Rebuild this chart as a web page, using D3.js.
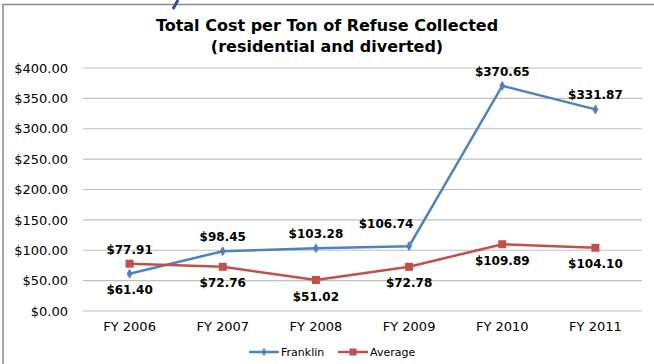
<!DOCTYPE html>
<html><head><meta charset="utf-8">
<script src="https://cdn.jsdelivr.net/npm/d3@7"></script>
<style>body{margin:0;background:#fff}svg{display:block}</style>
</head><body>
<script>
const categories = ["FY 2006","FY 2007","FY 2008","FY 2009","FY 2010","FY 2011"];
const franklin = [61.40, 98.45, 103.28, 106.74, 370.65, 331.87];
const average = [77.91, 72.76, 51.02, 72.78, 109.89, 104.10];
const yTicks = [0,50,100,150,200,250,300,350,400];
const seriesNames = ["Franklin","Average"];
const colors = ["#4F81BD","#C0504D"];
const titleLines = ["Total Cost per Ton of Refuse Collected","(residential and diverted)"];

const W=654,H=364;
const font="'DejaVu Sans', Verdana, sans-serif";
const svg=d3.select("body").append("svg").attr("width",W).attr("height",H);

// frame
svg.append("path").attr("d","M3,364 V4.5 H654").attr("fill","none").attr("stroke","#8a8a8a").attr("stroke-width",1.5);
svg.append("path").attr("d","M173,9 L178,0").attr("stroke","#2f4f8f").attr("stroke-width",3);

const x=d3.scaleBand().domain(categories).range([83,642]);
const y=d3.scaleLinear().domain([0,400]).range([311,68]);
const cx=d=>x(d)+x.bandwidth()/2;

// title
svg.append("g").selectAll("text").data(titleLines).join("text")
 .attr("x",327).attr("y",(d,i)=>31+i*21).attr("text-anchor","middle")
 .attr("font-family",font).attr("font-weight","bold").attr("font-size",16).attr("fill","#000").text(d=>d);

// grid
svg.append("g").selectAll("line").data(yTicks).join("line")
 .attr("x1",83).attr("x2",642).attr("y1",d=>y(d)).attr("y2",d=>y(d))
 .attr("stroke","#bfbfbf").attr("stroke-width",1.2);

// y axis
const yAxis=d3.axisLeft(y).tickValues(yTicks).tickSize(0).tickPadding(15).tickFormat(d=>"$"+d3.format(".2f")(d));
const ga=svg.append("g").attr("transform","translate(83,0)").call(yAxis);
ga.select(".domain").remove();
ga.selectAll("text").attr("font-family",font).attr("font-size",13).attr("fill","#000");

// x axis
const xAxis=d3.axisBottom(x).tickSize(0).tickPadding(11);
const gx=svg.append("g").attr("transform","translate(0,311)").call(xAxis);
gx.select(".domain").remove();
gx.selectAll("text").attr("font-family",font).attr("font-size",13).attr("fill","#000");

const line=d3.line().x((d,i)=>cx(categories[i])).y(d=>y(d));
const data=[franklin,average];
data.forEach((s,k)=>{
  svg.append("path").datum(s).attr("d",line).attr("fill","none").attr("stroke",colors[k]).attr("stroke-width",2.5);
});
// markers
svg.append("g").selectAll("path").data(franklin).join("path")
 .attr("d",d3.symbol(d3.symbolDiamond,30)).attr("transform",(d,i)=>`translate(${cx(categories[i])},${y(d)})`).attr("fill",colors[0]);
svg.append("g").selectAll("rect").data(average).join("rect")
 .attr("x",(d,i)=>cx(categories[i])-4).attr("y",d=>y(d)-4).attr("width",8).attr("height",8).attr("fill",colors[1]);

// labels
const fmt=d=>"$"+d3.format(".2f")(d);
function labels(s,above,shift){
  svg.append("g").selectAll("text").data(s).join("text")
   .attr("x",(d,i)=>cx(categories[i])+(shift(i)?-23:0))
   .attr("y",(d,i)=>above(i)?y(d)-(shift(i)?18.5:10):y(d)+20.5)
   .attr("text-anchor","middle").attr("font-family",font).attr("font-weight","bold").attr("font-size",12).attr("fill","#000")
   .text(fmt);
}
labels(franklin,i=>i!==0,i=>i===3);
labels(average,i=>i===0,i=>false);

// legend
const lg=svg.append("g").attr("transform","translate(0,352)");
const lx=[249,338];
seriesNames.forEach((n,k)=>{
  lg.append("line").attr("x1",lx[k]).attr("x2",lx[k]+30).attr("y1",0).attr("y2",0).attr("stroke",colors[k]).attr("stroke-width",2.5);
  if(k===0) lg.append("path").attr("d",d3.symbol(d3.symbolDiamond,20)).attr("transform",`translate(${lx[k]+15},0)`).attr("fill",colors[k]);
  else lg.append("rect").attr("x",lx[k]+11.5).attr("y",-3.5).attr("width",7).attr("height",7).attr("fill",colors[k]);
  lg.append("text").attr("x",lx[k]+32).attr("y",4).attr("font-family",font).attr("font-size",11).attr("fill","#000").text(n);
});
</script>
</body></html>
